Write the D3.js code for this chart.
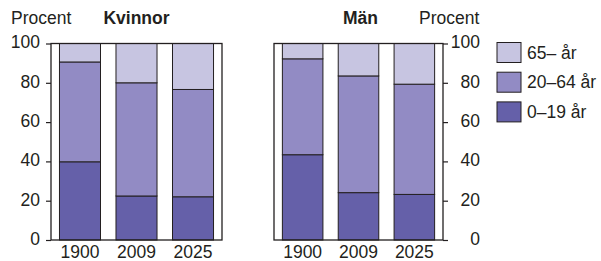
<!DOCTYPE html>
<html>
  <head>
    <meta charset="utf-8">
    <title>Kvinnor och män efter ålder</title>
    <script src="https://d3js.org/d3.v7.min.js"></script>
    <style>
      body { margin: 0; background: #fff; }
      text { font-family: "Liberation Sans", Arial, sans-serif; fill: #231f20; }
    </style>
  </head>
  <body>
    <div id="chart"></div>
    <script>
      // data (percent of population)
      const years = ["1900", "2009", "2025"];
      const groups = ["0–19 år", "20–64 år", "65– år"];
      const kvinnor0to19 = [39.8, 22.4, 22.0];
      const kvinnor20to64 = [50.8, 57.6, 54.6];
      const kvinnor65 = [9.4, 20.0, 23.4];
      const man0to19 = [43.4, 24.1, 23.2];
      const man20to64 = [48.8, 59.4, 56.1];
      const man65 = [7.8, 16.5, 20.7];
      const yTicks = [0, 20, 40, 60, 80, 100];

      const colors = ["#6560a9", "#928bc4", "#c7c5e1"];
      const ink = "#231f20";

      const svg = d3.select("#chart")
        .append("svg")
        .attr("width", 601)
        .attr("height", 261);

      const y = d3.scaleLinear()
        .domain([0, 100])
        .range([240, 43.5]);

      const color = d3.scaleOrdinal().domain(groups).range(colors);

      function rows(a, b, c) {
        return years.map((yr, i) => ({ year: yr, "0–19 år": a[i], "20–64 år": b[i], "65– år": c[i] }));
      }

      function panel(data, x0, x1, title, axisSide) {
        const x = d3.scaleBand()
          .domain(years)
          .range([x0, x1])
          .paddingInner(0.274)
          .paddingOuter(0.15);

        const g = svg.append("g");
        const series = d3.stack().keys(groups)(data);

        g.selectAll("g.layer")
          .data(series)
          .join("g")
          .attr("class", "layer")
          .attr("fill", d => color(d.key))
          .selectAll("rect")
          .data(d => d)
          .join("rect")
          .attr("x", d => x(d.data.year))
          .attr("y", d => y(d[1]))
          .attr("width", x.bandwidth())
          .attr("height", d => y(d[0]) - y(d[1]))
          .attr("stroke", ink)
          .attr("stroke-width", 1);

        // frame
        g.append("rect")
          .attr("x", x0)
          .attr("y", y(100))
          .attr("width", x1 - x0)
          .attr("height", y(0) - y(100))
          .attr("fill", "none")
          .attr("stroke", ink)
          .attr("stroke-width", 1.3);

        // year labels
        g.selectAll("text.year")
          .data(years)
          .join("text")
          .attr("class", "year")
          .attr("x", d => x(d) + x.bandwidth() / 2)
          .attr("y", 257.5)
          .attr("text-anchor", "middle")
          .attr("font-size", "17.5px")
          .text(d => d);

        // title
        g.append("text")
          .attr("x", (x0 + x1) / 2 + (axisSide === "left" ? 0 : 2))
          .attr("y", 24)
          .attr("text-anchor", "middle")
          .attr("font-size", "17.5px")
          .attr("font-weight", "bold")
          .text(title);

        // value axis
        const axis = axisSide === "left" ? d3.axisLeft(y) : d3.axisRight(y);
        const ax = svg.append("g")
          .attr("transform", `translate(${axisSide === "left" ? x0 : x1},0)`)
          .call(axis.tickValues(yTicks).tickSize(5).tickPadding(6));
        ax.select(".domain").remove();
        ax.selectAll("line").attr("stroke", ink).attr("stroke-width", 1.2);
        ax.selectAll("text")
          .attr("font-size", "17.5px")
          .attr("font-family", "Liberation Sans, Arial, sans-serif")
          .attr("fill", ink)
          .attr("dy", "0.25em");
        if (axisSide === "right") {
          ax.selectAll("text").attr("text-anchor", "end").attr("x", 37);
        }
      }

      panel(rows(kvinnor0to19, kvinnor20to64, kvinnor65), 51, 222, "Kvinnor", "left");
      panel(rows(man0to19, man20to64, man65), 274, 443, "Män", "right");

      svg.append("text")
        .attr("x", 11)
        .attr("y", 24)
        .attr("font-size", "17.5px")
        .text("Procent");

      svg.append("text")
        .attr("x", 419)
        .attr("y", 24)
        .attr("font-size", "17.5px")
        .text("Procent");

      // legend, top group first
      const legend = svg.append("g")
        .selectAll("g")
        .data(groups.slice().reverse())
        .join("g")
        .attr("transform", (d, i) => `translate(497,${42.5 + i * 29.7})`);

      legend.append("rect")
        .attr("width", 24)
        .attr("height", 20)
        .attr("fill", d => color(d))
        .attr("stroke", ink)
        .attr("stroke-width", 1);

      legend.append("text")
        .attr("x", 30)
        .attr("y", 10)
        .attr("dy", "0.35em")
        .attr("font-size", "17.5px")
        .text(d => d);
    </script>
  </body>
</html>
